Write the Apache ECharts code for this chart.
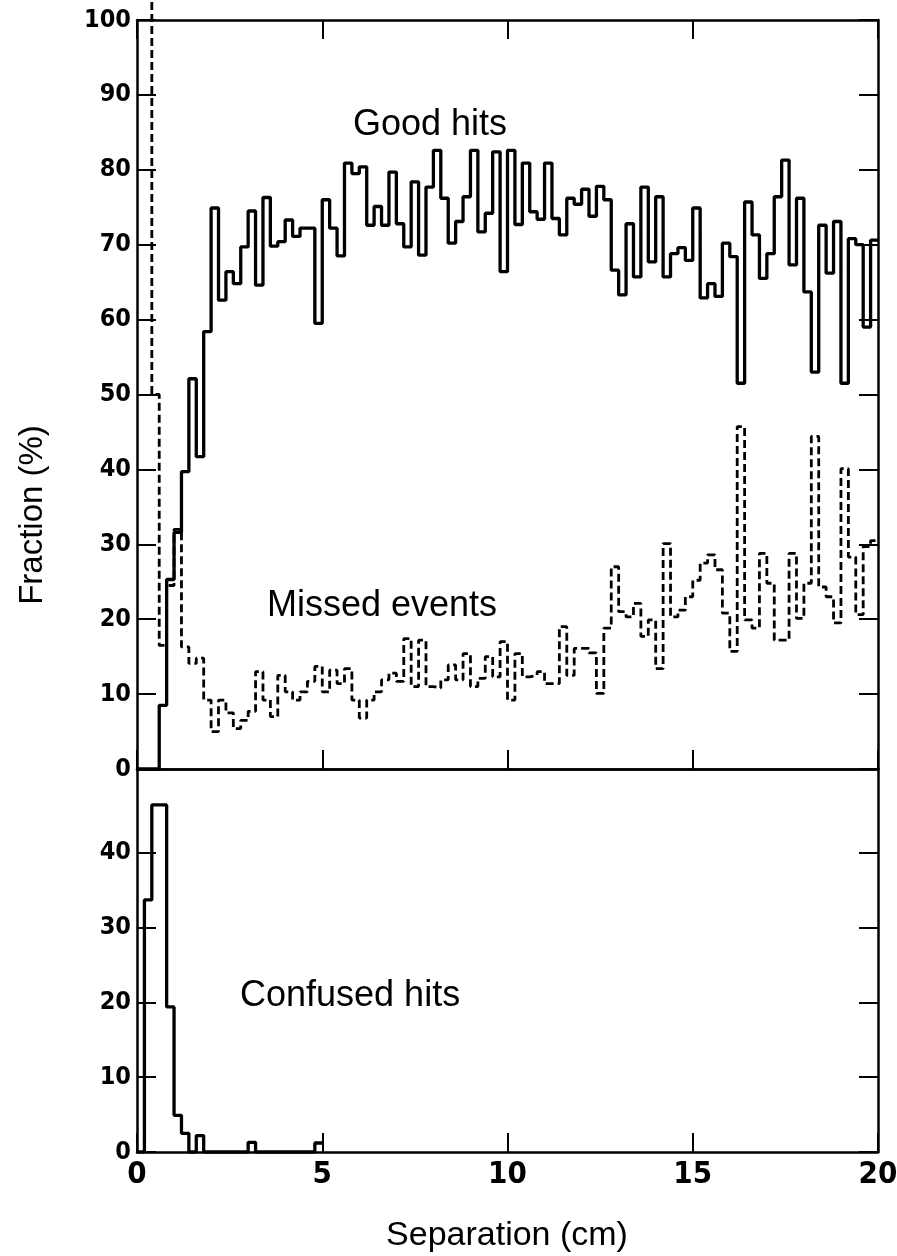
<!DOCTYPE html>
<html><head><meta charset="utf-8">
<script src="https://cdn.jsdelivr.net/npm/echarts@6/dist/echarts.min.js"></script>
<style>html,body{margin:0;padding:0;background:#fff;}#c{width:897px;height:1256px;}</style>
</head><body><div id="c"></div>
<script>
// ---- data (bin width 0.2 cm, bins start at 0) ----
const binWidth = 0.2;
const goodHits = [0,0,0,8.5,25.3,31.6,39.7,52.1,41.7,58.4,
  74.9,62.6,66.4,64.8,69.7,74.5,64.6,76.3,69.8,70.4,
  73.3,71.1,72.2,72.2,59.5,76,72.2,68.5,80.9,79.5,
  80.4,72.6,75.1,72.6,79.7,72.8,69.7,78.4,68.6,77.7,
  82.6,76.2,70.2,73.1,76.4,82.6,71.7,74.2,82.4,66.4,
  82.6,72.7,80.9,74.4,73.4,80.9,73.5,71.3,76.2,75.4,
  77.4,73.8,77.8,76,66.6,63.3,72.8,65.7,77.7,67.7,
  76.4,65.7,68.8,69.6,67.9,74.9,62.9,64.8,63.1,70.2,
  68.4,51.5,75.7,71.3,65.5,68.8,76.4,81.3,67.3,76.2,
  63.7,53,72.6,66.2,73.1,51.5,70.8,70,59,70.6];
const missedStartBin = 1;
const missedEvents = [103,50,16.5,24.5,32,16.3,14.1,14.8,9.2,
  5,9.2,7.5,5.4,6.5,7.7,13,9.2,7,12.5,
  10.3,9.2,10.3,11.7,13.7,10.3,13.2,11.4,13.4,9.2,
  6.8,9.2,10.3,11.9,12.8,11.7,17.4,11,17.2,11,
  10.8,11.9,13.9,11.9,15.4,11,12.1,15,12.3,17,
  9.2,15.4,12.3,12.5,13,11.4,11.4,19,12.5,16.1,
  16.1,15.5,10.1,18.8,27,21,20.3,22.1,17.7,19.9,
  13.4,30.1,20.3,21.2,23,25.2,27.5,28.6,26.6,20.8,
  15.7,45.7,19.9,18.8,28.8,24.8,17.2,17.2,28.8,20.1,
  24.8,44.4,24.3,23,19.5,40.1,28.3,20.6,29.7,30.5];
const confusedStartBin = 0;
const confusedHits = [0,33.7,46.4,46.4,19.4,4.9,2.5,0,2.2,0,
  0,0,0,0,0,1.3,0,0,0,0,0,0,0,0,1.2];
const xTickValues = [0,5,10,15,20];
const topYTicks = [0,10,20,30,40,50,60,70,80,90,100];
const bottomYTicks = [0,10,20,30,40];
const labelGood = 'Good hits';
const labelMissed = 'Missed events';
const labelConfused = 'Confused hits';
const xTitle = 'Separation (cm)';
const yTitle = 'Fraction (%)';

function histPoints(values, startBin) {
  const pts = values.map((v, i) => [(startBin + i) * binWidth, v]);
  pts.push([(startBin + values.length) * binWidth, values[values.length - 1]]);
  return pts;
}

const FONT = '"Liberation Sans", Arial, Helvetica, sans-serif';
const NARROW = '"Liberation Sans Narrow", "DejaVu Sans Condensed", "Liberation Sans", Arial, sans-serif';
const BLK = '#000';
const axLine = { show: true, onZero: false, lineStyle: { color: BLK, width: 2.5 } };
const tick = (vals, show) => ({ show: show, inside: true, length: 19, customValues: vals, lineStyle: { color: BLK, width: 2 } });

function xAxis(grid, pos, showLabel, showTick) {
  return {
    type: 'value', gridIndex: grid, position: pos, min: 0, max: 20, interval: 5,
    axisLine: axLine, axisTick: tick(xTickValues, showTick), splitLine: { show: false },
    axisLabel: { show: showLabel, customValues: xTickValues, color: BLK, fontFamily: NARROW, fontSize: 31, fontWeight: 'bold', margin: 7 }
  };
}
function yAxis(grid, pos, max, ticks, showLabel) {
  return {
    type: 'value', gridIndex: grid, position: pos, min: 0, max: max, interval: 10,
    axisLine: axLine, axisTick: tick(ticks, true), splitLine: { show: false },
    axisLabel: { show: showLabel, customValues: ticks, color: BLK, fontFamily: NARROW, fontSize: 25, fontWeight: 'bold', margin: 6,
      formatter: v => (ticks.indexOf(v) >= 0 ? String(v) : '') }
  };
}

const chart = echarts.init(document.getElementById('c'), null, { renderer: 'canvas' });
chart.setOption({
  backgroundColor: '#fff',
  animation: false,
  grid: [
    { left: 137, right: 19, top: 20, height: 749, outerBoundsMode: 'none', containLabel: false },
    { left: 137, right: 19, top: 769, height: 383, outerBoundsMode: 'none', containLabel: false }
  ],
  xAxis: [xAxis(0, 'bottom', false, true), xAxis(0, 'top', false, true), xAxis(1, 'bottom', true, true), xAxis(1, 'top', false, false)],
  yAxis: [yAxis(0, 'left', 100, topYTicks, true), yAxis(0, 'right', 100, topYTicks, false),
          yAxis(1, 'left', 51.2, bottomYTicks, true), yAxis(1, 'right', 51.2, bottomYTicks, false)],
  series: [
    { type: 'line', xAxisIndex: 0, yAxisIndex: 0, step: 'end', symbol: 'none', silent: true,
      data: histPoints(goodHits, 0), lineStyle: { color: BLK, width: 3.3 } },
    { type: 'line', xAxisIndex: 0, yAxisIndex: 0, step: 'end', symbol: 'none', silent: true, clip: false,
      data: histPoints(missedEvents, missedStartBin), lineStyle: { color: BLK, width: 2.8, type: [8, 4] } },
    { type: 'line', xAxisIndex: 2, yAxisIndex: 2, step: 'end', symbol: 'none', silent: true,
      data: histPoints(confusedHits, confusedStartBin), lineStyle: { color: BLK, width: 3.3 } }
  ],
  graphic: [
    { type: 'text', left: 353, top: 107, style: { text: labelGood, fill: BLK, font: '36px ' + FONT } },
    { type: 'text', left: 267, top: 588, style: { text: labelMissed, fill: BLK, font: '36px ' + FONT } },
    { type: 'text', left: 240, top: 978, style: { text: labelConfused, fill: BLK, font: '36px ' + FONT } },
    { type: 'text', x: 507, y: 1236, style: { text: xTitle, fill: BLK, font: '34px ' + FONT, align: 'center', verticalAlign: 'middle' } },
    { type: 'text', x: 33, y: 515, rotation: Math.PI / 2, style: { text: yTitle, fill: BLK, font: '33px ' + FONT, align: 'center', verticalAlign: 'middle' } }
  ]
});
</script></body></html>
